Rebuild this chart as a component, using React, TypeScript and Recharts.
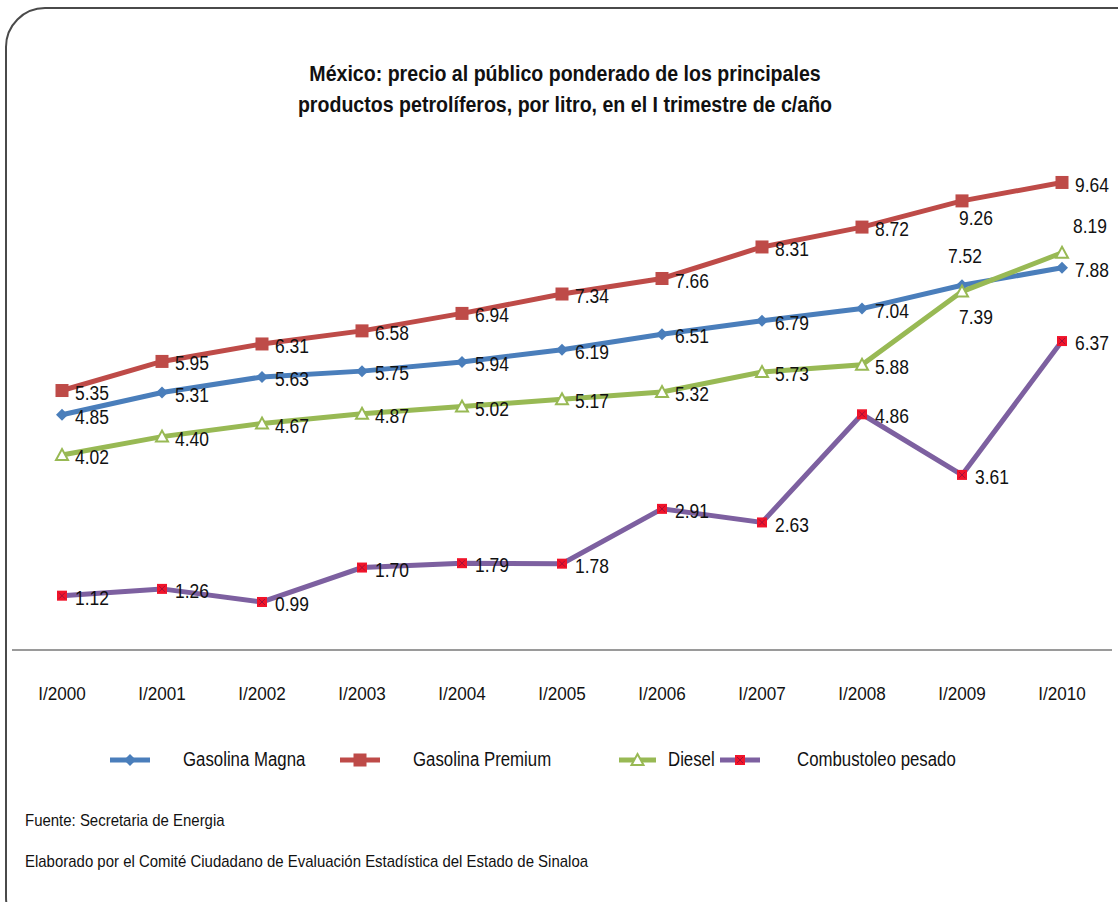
import { LineChart, Line, XAxis, YAxis, LabelList } from "recharts"

const periods = ["I/2000", "I/2001", "I/2002", "I/2003", "I/2004", "I/2005", "I/2006", "I/2007", "I/2008", "I/2009", "I/2010"]
const magna = [4.85, 5.31, 5.63, 5.75, 5.94, 6.19, 6.51, 6.79, 7.04, 7.52, 7.88]
const premium = [5.35, 5.95, 6.31, 6.58, 6.94, 7.34, 7.66, 8.31, 8.72, 9.26, 9.64]
const diesel = [4.02, 4.4, 4.67, 4.87, 5.02, 5.17, 5.32, 5.73, 5.88, 7.39, 8.19]
const combustoleo = [1.12, 1.26, 0.99, 1.7, 1.79, 1.78, 2.91, 2.63, 4.86, 3.61, 6.37]

const data = periods.map((p, i) => ({
  periodo: p,
  magna: magna[i],
  premium: premium[i],
  diesel: diesel[i],
  combustoleo: combustoleo[i],
}))

const BLUE = "#4a7ebb"
const RED = "#be4b48"
const GREEN = "#98b954"
const PURPLE = "#7d60a0"
const FONT = '"Liberation Sans", Arial, sans-serif'
const NARROW = 0.83 // squeeze, the original uses a condensed face

// where a label sits relative to its point, when not to the right
const labelPlace: Record<string, Record<number, string>> = {
  magna: { 9: "top" },
  premium: { 9: "bottom" },
  diesel: { 9: "bottom", 10: "topRight" },
  combustoleo: {},
}

const makeLabel = (key: string) => (props: any) => {
  const { x, y, value, index } = props
  const place = labelPlace[key][index]
  let tx = x + 13
  let ty = y + 2
  let anchor: "start" | "middle" = "start"
  if (place === "top") {
    tx = x + 3
    ty = y - 29
    anchor = "middle"
  } else if (place === "bottom") {
    tx = x + 14
    ty = y + (key === "premium" ? 17 : 25)
    anchor = "middle"
  } else if (place === "topRight") {
    tx = x + 28
    ty = y - 27
    anchor = "middle"
  }
  return (
    <text
      transform={`translate(${tx},${ty}) scale(${NARROW},1)`}
      textAnchor={anchor}
      dominantBaseline="central"
      fontSize={21}
      fontFamily={FONT}
      fill="#111"
    >
      {Number(value).toFixed(2)}
    </text>
  )
}

const PeriodTick = (props: any) => {
  const { x, y, payload } = props
  return (
    <text transform={`translate(${x},${y + 42}) scale(0.9,1)`} textAnchor="middle" fontSize={19} fontFamily={FONT} fill="#111">
      {payload.value}
    </text>
  )
}

const DiamondDot = (props: any) => {
  const { cx, cy } = props
  return <path d={`M${cx},${cy - 6} L${cx + 6},${cy} L${cx},${cy + 6} L${cx - 6},${cy} Z`} fill={BLUE} />
}

const SquareDot = (props: any) => {
  const { cx, cy } = props
  return <rect x={cx - 6.5} y={cy - 6.5} width={13} height={13} fill={RED} />
}

const TriangleDot = (props: any) => {
  const { cx, cy } = props
  return <path d={`M${cx},${cy - 6} L${cx + 6},${cy + 5} L${cx - 6},${cy + 5} Z`} fill="#fff" stroke={GREEN} strokeWidth={2} />
}

const RedDot = (props: any) => {
  const { cx, cy } = props
  return (
    <g>
      <rect x={cx - 5} y={cy - 5} width={10} height={10} fill="#f0142a" />
      <path d={`M${cx - 3},${cy - 3} L${cx + 3},${cy + 3} M${cx + 3},${cy - 3} L${cx - 3},${cy + 3}`} stroke="#a0103a" strokeWidth={1} />
    </g>
  )
}

const legendItems = [
  { name: "Gasolina Magna", color: BLUE, Dot: DiamondDot, iconX: 110, iconW: 40, textX: 183 },
  { name: "Gasolina Premium", color: RED, Dot: SquareDot, iconX: 340, iconW: 40, textX: 413 },
  { name: "Diesel", color: GREEN, Dot: TriangleDot, iconX: 619, iconW: 37, textX: 668 },
  { name: "Combustoleo pesado", color: PURPLE, Dot: RedDot, iconX: 720, iconW: 40, textX: 797 },
]

const squeeze = (k: number, origin = "left") => ({ transform: `scaleX(${k})`, transformOrigin: origin })

export default function App() {
  return (
    <div style={{ position: "absolute", left: 0, top: 0, width: 1118, height: 902, overflow: "hidden", background: "#fff", fontFamily: FONT }}>
      <div style={{ position: "absolute", left: 5, top: 7, width: 1150, height: 930, border: "2px solid #4a4a4a", borderRadius: 40, boxSizing: "border-box" }} />
      <div
        style={{
          position: "absolute",
          left: 0,
          top: 58,
          width: 1130,
          textAlign: "center",
          fontWeight: "bold",
          fontSize: 22,
          lineHeight: "31px",
          color: "#111",
          ...squeeze(0.89, "565px 0"),
        }}
      >
        México: precio al público ponderado de los principales
        <br />
        productos petrolíferos, por litro, en el I trimestre de c/año
      </div>
      <div style={{ position: "absolute", left: 0, top: 0 }}>
        <LineChart width={1118} height={902} data={data} margin={{ top: 165, right: 6, bottom: 182, left: 12 }}>
          <XAxis
            dataKey="periodo"
            padding={{ left: 50, right: 50 }}
            axisLine={{ stroke: "#9a9a9a", strokeWidth: 2 }}
            tickLine={false}
            height={70}
            tick={<PeriodTick />}
            interval={0}
          />
          <YAxis hide domain={[0, 10]} />
          <Line dataKey="premium" stroke={RED} strokeWidth={5} dot={<SquareDot />} isAnimationActive={false}>
            <LabelList dataKey="premium" content={makeLabel("premium")} />
          </Line>
          <Line dataKey="magna" stroke={BLUE} strokeWidth={5} dot={<DiamondDot />} isAnimationActive={false}>
            <LabelList dataKey="magna" content={makeLabel("magna")} />
          </Line>
          <Line dataKey="diesel" stroke={GREEN} strokeWidth={5} dot={<TriangleDot />} isAnimationActive={false}>
            <LabelList dataKey="diesel" content={makeLabel("diesel")} />
          </Line>
          <Line dataKey="combustoleo" stroke={PURPLE} strokeWidth={5} dot={<RedDot />} isAnimationActive={false}>
            <LabelList dataKey="combustoleo" content={makeLabel("combustoleo")} />
          </Line>
        </LineChart>
      </div>
      {legendItems.map((it) => (
        <div key={it.name}>
          <svg style={{ position: "absolute", left: it.iconX, top: 750 }} width={it.iconW} height={20}>
            <line x1={0} y1={10} x2={it.iconW} y2={10} stroke={it.color} strokeWidth={5} />
            <it.Dot cx={it.iconW / 2} cy={10} />
          </svg>
          <div style={{ position: "absolute", left: it.textX, top: 748, fontSize: 20, color: "#111", whiteSpace: "nowrap", ...squeeze(0.84) }}>
            {it.name}
          </div>
        </div>
      ))}
      <div style={{ position: "absolute", left: 25, top: 811, fontSize: 17, color: "#111", whiteSpace: "nowrap", ...squeeze(0.88) }}>
        Fuente: Secretaria de Energia
      </div>
      <div style={{ position: "absolute", left: 25, top: 852, fontSize: 17, color: "#111", whiteSpace: "nowrap", ...squeeze(0.88) }}>
        Elaborado por el Comité Ciudadano de Evaluación Estadística del Estado de Sinaloa
      </div>
    </div>
  )
}
